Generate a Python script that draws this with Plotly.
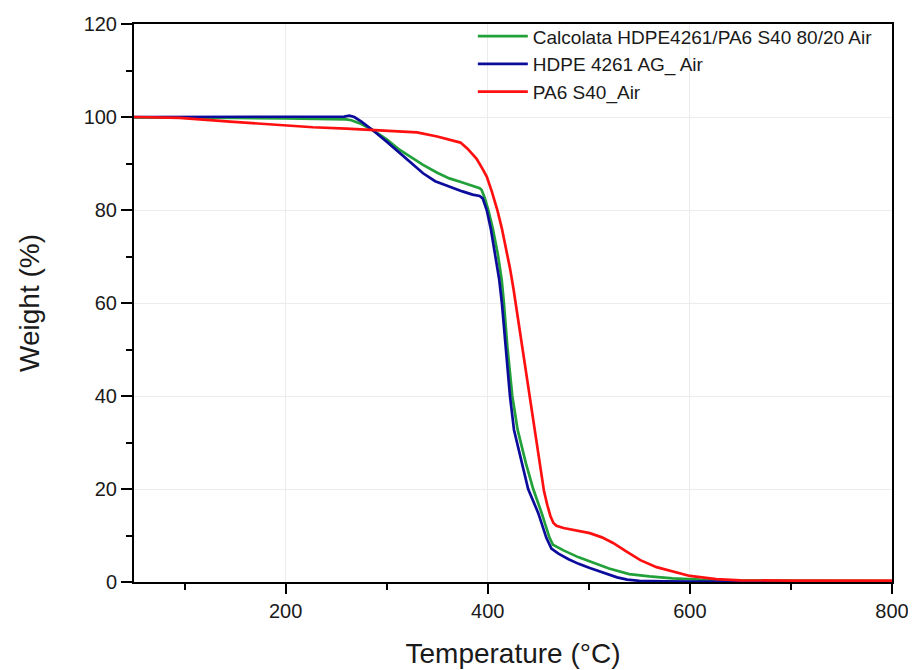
import plotly.graph_objects as go

# ---- data ----
names = ["Calcolata HDPE4261/PA6 S40 80/20 Air", "HDPE 4261 AG_ Air", "PA6 S40_Air"]
colors = ["#22a03a", "#0c0c9c", "#ff1010"]

t_green = [50, 100, 150, 200, 244, 260, 265, 275, 286, 300, 313, 325, 336, 350, 362, 375, 385, 392, 394,
           397, 400.6, 405, 410, 413.8, 416, 419.4, 424.3, 429.6, 437.8, 445, 453.4, 461, 464.5, 475,
           490, 501, 520, 540, 560, 583, 610, 650, 700, 800]
w_green = [99.9, 99.9, 99.8, 99.7, 99.5, 99.5, 99.3, 98.5, 97.2, 95.2, 92.9, 91.2, 89.7, 88.0, 86.8, 85.9,
           85.2, 84.7, 84.3, 82.6, 80.0, 76.0, 70.5, 65.0, 60.0, 50.6, 40.0, 32.7, 25.5, 20.0, 14.8, 9.6,
           8.0, 6.8, 5.3, 4.4, 2.9, 1.7, 1.2, 0.8, 0.5, 0.3, 0.25, 0.2]

t_blue = [50, 100, 150, 200, 250, 258, 263, 268, 275, 286, 300, 313, 325, 336, 348, 362, 375, 385, 392,
          395, 399, 403, 407, 411.4, 414, 418, 422, 426, 434, 440, 450, 458, 463, 470, 480, 490, 501,
          515, 528, 538, 550, 575, 600, 700, 800]
w_blue = [100.0, 100.0, 100.05, 100.0, 100.0, 100.1, 100.3, 100.0, 99.0, 97.2, 94.7, 92.2, 90.0, 87.9,
          86.2, 85.0, 84.0, 83.3, 83.0, 82.5, 80.0, 76.0, 71.0, 65.0, 60.0, 50.6, 40.0, 32.7, 25.5, 20.0,
          14.8, 9.5, 7.2, 6.1, 4.9, 3.9, 3.0, 1.9, 1.0, 0.5, 0.25, 0.15, 0.1, 0.1, 0.1]

t_red = [50, 95, 145, 195, 227, 260, 286, 310, 330, 350, 365, 373, 380, 389, 395, 399, 404, 409.5,
         414, 418, 422, 425.5, 429, 434.2, 441, 446.8, 451.7, 455.7, 459, 462, 465, 468, 475, 490, 501,
         513, 524, 537, 551, 567, 583, 600, 626, 650, 700, 800]
w_red = [100.0, 99.8, 99.0, 98.3, 97.8, 97.5, 97.2, 97.0, 96.7, 95.8, 95.0, 94.5, 93.2, 91.0, 88.8, 87.2,
         84.0, 80.0, 76.0, 72.0, 67.5, 63.0, 58.0, 50.6, 40.0, 31.5, 24.5, 19.5, 16.5, 14.2, 12.7, 12.1,
         11.6, 11.0, 10.5, 9.6, 8.4, 6.6, 4.7, 3.2, 2.2, 1.3, 0.6, 0.35, 0.3, 0.3]

x_tickvals = [200, 400, 600, 800]
y_tickvals = [0, 20, 40, 60, 80, 100, 120]

series = [(t_green, w_green), (t_blue, w_blue), (t_red, w_red)]

fig = go.Figure()
for (t, w), name, col in zip(series, names, colors):
    fig.add_trace(go.Scatter(x=t, y=w, mode="lines", name=name,
                             line=dict(color=col, width=2.7)))

FONT = "Liberation Sans, Arial, sans-serif"
axis_common = dict(
    showline=True, linecolor="black", linewidth=2, mirror=True,
    ticks="outside", tickcolor="black", tickwidth=2,
    showgrid=True, gridcolor="#ececec", gridwidth=1,
    zeroline=False,
    tickfont=dict(family=FONT, size=20, color="#1a1a1a"),
)

fig.update_xaxes(range=[50, 800], tickvals=x_tickvals, ticklen=10, ticklabeloverflow="allow",
                 minor=dict(dtick=100, tick0=0, ticklen=6, tickwidth=2, tickcolor="black", ticks="outside", showgrid=False),
                 title=dict(text="Temperature (°C)", standoff=22,
                            font=dict(family=FONT, size=28, color="#1a1a1a")),
                 **axis_common)
fig.update_yaxes(range=[0, 120], tickvals=y_tickvals, ticklen=11,
                 minor=dict(dtick=10, tick0=0, ticklen=6, tickwidth=2, tickcolor="black", ticks="outside", showgrid=False),
                 title=dict(text="Weight (%)", standoff=36,
                            font=dict(family=FONT, size=28, color="#1a1a1a")),
                 **axis_common)

# page body adds an 8px margin at top-left, so the figure is offset by 8px
fig.update_layout(
    width=908, height=662,
    margin=dict(l=126, r=24, t=16, b=88, autoexpand=False),
    plot_bgcolor="white", paper_bgcolor="white",
    showlegend=True,
    legend=dict(x=0.447, y=1.012, xanchor="left", yanchor="top",
                bgcolor="rgba(0,0,0,0)", borderwidth=0,
                font=dict(family=FONT, size=19, color="#1a1a1a"),
                itemwidth=50, tracegroupgap=0),
)

fig.write_html("out.html")
